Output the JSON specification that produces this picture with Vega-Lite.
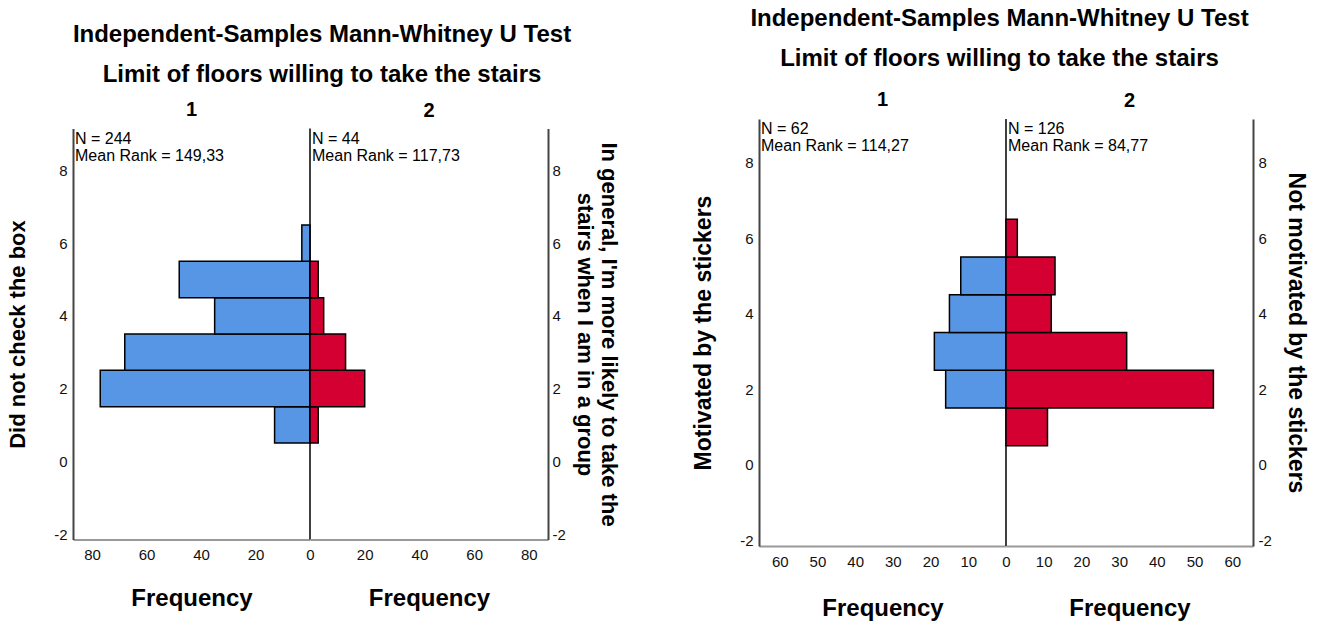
{
  "$schema": "https://vega.github.io/schema/vega-lite/v6.json",
  "padding": {"left": 6, "top": 7, "right": 5, "bottom": 3},
  "background": "white",
  "datasets": {
    "stairs": [
      {"group": 1, "lo": 0.5, "hi": 1.5, "count": 13},
      {"group": 1, "lo": 1.5, "hi": 2.5, "count": 77},
      {"group": 1, "lo": 2.5, "hi": 3.5, "count": 68},
      {"group": 1, "lo": 3.5, "hi": 4.5, "count": 35},
      {"group": 1, "lo": 4.5, "hi": 5.5, "count": 48},
      {"group": 1, "lo": 5.5, "hi": 6.5, "count": 3},
      {"group": 2, "lo": 0.5, "hi": 1.5, "count": 3},
      {"group": 2, "lo": 1.5, "hi": 2.5, "count": 20},
      {"group": 2, "lo": 2.5, "hi": 3.5, "count": 13},
      {"group": 2, "lo": 3.5, "hi": 4.5, "count": 5},
      {"group": 2, "lo": 4.5, "hi": 5.5, "count": 3}
    ],
    "stickers": [
      {"group": 1, "lo": 1.5, "hi": 2.5, "count": 16},
      {"group": 1, "lo": 2.5, "hi": 3.5, "count": 19},
      {"group": 1, "lo": 3.5, "hi": 4.5, "count": 15},
      {"group": 1, "lo": 4.5, "hi": 5.5, "count": 12},
      {"group": 2, "lo": 0.5, "hi": 1.5, "count": 11},
      {"group": 2, "lo": 1.5, "hi": 2.5, "count": 55},
      {"group": 2, "lo": 2.5, "hi": 3.5, "count": 32},
      {"group": 2, "lo": 3.5, "hi": 4.5, "count": 12},
      {"group": 2, "lo": 4.5, "hi": 5.5, "count": 13},
      {"group": 2, "lo": 5.5, "hi": 6.5, "count": 3}
    ]
  },
  "spacing": 72,
  "center": true,
  "hconcat": [
    {
      "title": {
        "text": ["Independent-Samples Mann-Whitney U Test", "Limit of floors willing to take the stairs"],
        "lineHeight": 40,
        "anchor": "middle",
        "frame": "bounds",
        "dx": 9,
        "offset": 13
      },
      "spacing": 0,
      "bounds": "flush",
      "hconcat": [
        {
          "width": 237,
          "height": 411,
          "title": {"text": "1", "fontSize": 20, "offset": 8},
          "layer": [
            {
              "data": {"name": "stairs"},
              "transform": [{"filter": "datum.group == 1"}],
              "mark": {"type": "rect", "fill": "#5796e4", "stroke": "#000", "strokeWidth": 1.5},
              "encoding": {
                "x": {
                  "field": "count", "type": "quantitative",
                  "scale": {"domain": [0, 87], "reverse": true, "nice": false, "zero": false},
                  "axis": {"values": [0, 20, 40, 60, 80], "title": "Frequency"}
                },
                "x2": {"datum": 0},
                "y": {
                  "field": "lo", "type": "quantitative",
                  "scale": {"domain": [-2.15, 9.15], "nice": false, "zero": false},
                  "axis": {"orient": "left", "values": [-2, 0, 2, 4, 6, 8], "titleFontSize": 22, "title": "Did not check the box"}
                },
                "y2": {"field": "hi"}
              }
            },
            {
              "data": {"values": [{"label": "N = 244\nMean Rank = 149,33"}]},
              "mark": {"type": "rule", "color": "#000", "strokeWidth": 1.5},
              "encoding": {"x": {"datum": 0}}
            },
            {
              "data": {"values": [{"label": "N = 244\nMean Rank = 149,33"}]},
              "mark": {"type": "text", "align": "left", "baseline": "top", "lineBreak": "\n", "dx": 2, "dy": 2, "fontSize": 16, "lineHeight": 17, "color": "#000"},
              "encoding": {"x": {"datum": 87}, "y": {"datum": 9.15}, "text": {"field": "label"}}
            }
          ]
        },
        {
          "width": 238,
          "height": 411,
          "title": {"text": "2", "fontSize": 20, "offset": 8},
          "layer": [
            {
              "data": {"name": "stairs"},
              "transform": [{"filter": "datum.group == 2"}],
              "mark": {"type": "rect", "fill": "#d50032", "stroke": "#000", "strokeWidth": 1.5},
              "encoding": {
                "x": {
                  "field": "count", "type": "quantitative",
                  "scale": {"domain": [0, 87], "nice": false, "zero": false},
                  "axis": {"values": [20, 40, 60, 80], "title": "Frequency"}
                },
                "x2": {"datum": 0},
                "y": {
                  "field": "lo", "type": "quantitative",
                  "scale": {"domain": [-2.15, 9.15], "nice": false, "zero": false},
                  "axis": {"orient": "right", "values": [-2, 0, 2, 4, 6, 8], "labelPadding": 4, "titlePadding": 7, "titleFontSize": 22, "title": ["In general, I'm more likely to take the", "stairs when I am in a group"]}
                },
                "y2": {"field": "hi"}
              }
            },
            {
              "data": {"values": [{"label": "N = 44\nMean Rank = 117,73"}]},
              "mark": {"type": "text", "align": "left", "baseline": "top", "lineBreak": "\n", "dx": 2, "dy": 2, "fontSize": 16, "lineHeight": 17, "color": "#000"},
              "encoding": {"x": {"datum": 0}, "y": {"datum": 9.15}, "text": {"field": "label"}}
            }
          ]
        }
      ]
    },
    {
      "title": {
        "text": ["Independent-Samples Mann-Whitney U Test", "Limit of floors willing to take the stairs"],
        "lineHeight": 40,
        "anchor": "middle",
        "frame": "bounds",
        "offset": 19
      },
      "spacing": 0,
      "bounds": "flush",
      "hconcat": [
        {
          "width": 247,
          "height": 427,
          "title": {"text": "1", "fontSize": 20, "offset": 8},
          "layer": [
            {
              "data": {"name": "stickers"},
              "transform": [{"filter": "datum.group == 1"}],
              "mark": {"type": "rect", "fill": "#5796e4", "stroke": "#000", "strokeWidth": 1.5},
              "encoding": {
                "x": {
                  "field": "count", "type": "quantitative",
                  "scale": {"domain": [0, 65.5], "reverse": true, "nice": false, "zero": false},
                  "axis": {"values": [0, 10, 20, 30, 40, 50, 60], "titlePadding": 27, "title": "Frequency"}
                },
                "x2": {"datum": 0},
                "y": {
                  "field": "lo", "type": "quantitative",
                  "scale": {"domain": [-2.15, 9.15], "nice": false, "zero": false},
                  "axis": {"orient": "left", "values": [-2, 0, 2, 4, 6, 8], "title": "Motivated by the stickers"}
                },
                "y2": {"field": "hi"}
              }
            },
            {
              "data": {"values": [{"label": "N = 62\nMean Rank = 114,27"}]},
              "mark": {"type": "rule", "color": "#000", "strokeWidth": 1.5},
              "encoding": {"x": {"datum": 0}}
            },
            {
              "data": {"values": [{"label": "N = 62\nMean Rank = 114,27"}]},
              "mark": {"type": "text", "align": "left", "baseline": "top", "lineBreak": "\n", "dx": 2, "dy": 2, "fontSize": 16, "lineHeight": 17, "color": "#000"},
              "encoding": {"x": {"datum": 65.5}, "y": {"datum": 9.15}, "text": {"field": "label"}}
            }
          ]
        },
        {
          "width": 247,
          "height": 427,
          "title": {"text": "2", "fontSize": 20, "offset": 8},
          "layer": [
            {
              "data": {"name": "stickers"},
              "transform": [{"filter": "datum.group == 2"}],
              "mark": {"type": "rect", "fill": "#d50032", "stroke": "#000", "strokeWidth": 1.5},
              "encoding": {
                "x": {
                  "field": "count", "type": "quantitative",
                  "scale": {"domain": [0, 65.5], "nice": false, "zero": false},
                  "axis": {"values": [10, 20, 30, 40, 50, 60], "titlePadding": 27, "title": "Frequency"}
                },
                "x2": {"datum": 0},
                "y": {
                  "field": "lo", "type": "quantitative",
                  "scale": {"domain": [-2.15, 9.15], "nice": false, "zero": false},
                  "axis": {"orient": "right", "values": [-2, 0, 2, 4, 6, 8], "labelPadding": 5, "titlePadding": 12, "title": "Not motivated by the stickers"}
                },
                "y2": {"field": "hi"}
              }
            },
            {
              "data": {"values": [{"label": "N = 126\nMean Rank = 84,77"}]},
              "mark": {"type": "text", "align": "left", "baseline": "top", "lineBreak": "\n", "dx": 2, "dy": 2, "fontSize": 16, "lineHeight": 17, "color": "#000"},
              "encoding": {"x": {"datum": 0}, "y": {"datum": 9.15}, "text": {"field": "label"}}
            }
          ]
        }
      ]
    }
  ],
  "config": {
    "font": "Liberation Sans",
    "view": {"stroke": null},
    "axis": {
      "ticks": false,
      "grid": false,
      "labelFont": "Liberation Sans",
      "labelFontSize": 15,
      "labelColor": "#111",
      "labelExpr": "'' + datum.value",
      "titleFont": "Liberation Sans",
      "titleFontSize": 23,
      "titleFontWeight": "bold",
      "titleColor": "#000",
      "domainWidth": 2
    },
    "axisY": {"domainColor": "#444", "labelPadding": 6, "titlePadding": 24},
    "axisX": {"domainColor": "#999", "labelPadding": 8, "titlePadding": 24, "labelFlush": false, "titleFontSize": 24},
    "title": {"font": "Liberation Sans", "fontSize": 24, "fontWeight": "bold", "color": "#000"}
  }
}
